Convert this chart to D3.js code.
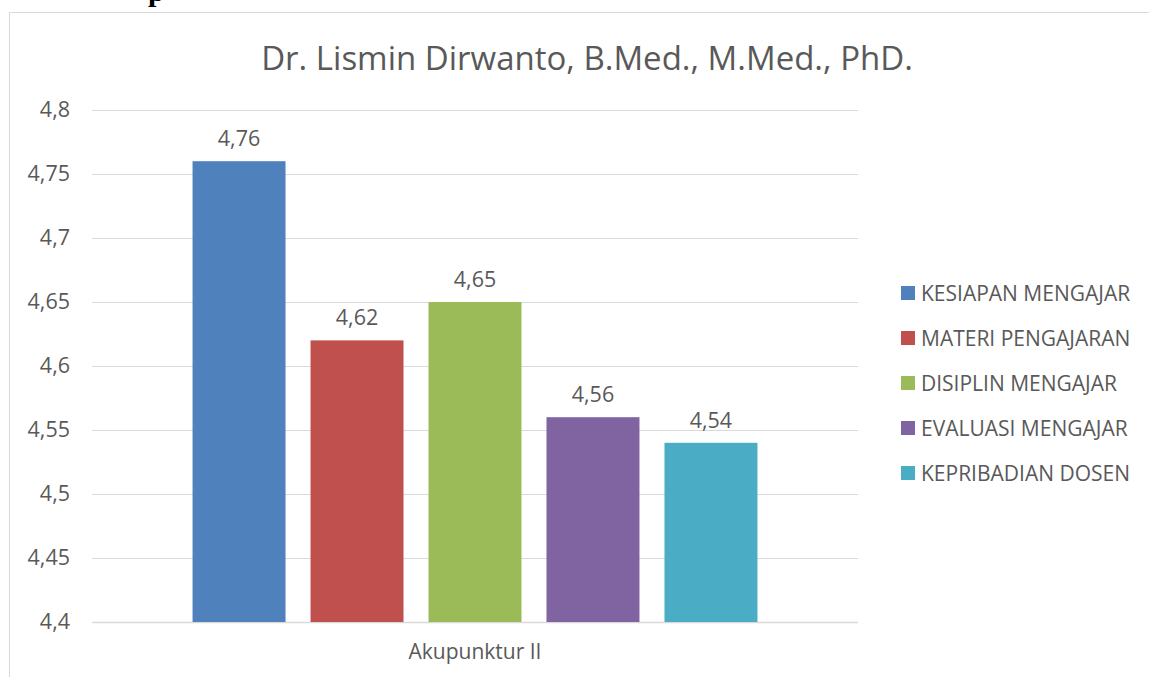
<!DOCTYPE html>
<html>
<head>
<meta charset="utf-8">
<script src="https://cdn.jsdelivr.net/npm/d3@7"></script>
<style>
  html, body { margin: 0; padding: 0; background: #fff; }
  svg { display: block; font-family: "Open Sans", sans-serif; }
</style>
</head>
<body>
<div id="chart"></div>
<script>
const title = 'Dr. Lismin Dirwanto, B.Med., M.Med., PhD.';
const categories = ['Akupunktur II'];
const seriesNames = ['KESIAPAN MENGAJAR', 'MATERI PENGAJARAN', 'DISIPLIN MENGAJAR', 'EVALUASI MENGAJAR', 'KEPRIBADIAN DOSEN'];
const seriesValues = [4.76, 4.62, 4.65, 4.56, 4.54];
const seriesColors = ['#4F81BD', '#C0504D', '#9BBB59', '#8064A2', '#4BACC6'];
const yTicks = [4.4, 4.45, 4.5, 4.55, 4.6, 4.65, 4.7, 4.75, 4.8];

const W = 1149, H = 677;
const plot = { left: 92, right: 858, top: 110, bottom: 622 };
const textColor = '#595959';
const gridColor = '#D9D9D9';

const locale = d3.formatLocale({ decimal: ',', thousands: '.', grouping: [3], currency: ['', ''] });
const fmt = locale.format('~g');

const svg = d3.select('#chart').append('svg').attr('width', W).attr('height', H);

// piece of the document heading above the chart
svg.append('text').attr('x', 148).attr('y', 1)
    .style('font-family', '"Liberation Serif", serif').style('font-weight', 'bold')
    .style('font-size', '30px').style('fill', '#000').text('p');

// chart frame
svg.append('rect').attr('x', 9.5).attr('y', 12.5).attr('width', 1200).attr('height', 700)
    .attr('fill', 'none').attr('stroke', gridColor).attr('stroke-width', 1);

svg.append('text').attr('x', 587).attr('y', 70).attr('text-anchor', 'middle')
    .style('font-size', '33px').style('fill', textColor).text(title);

const y = d3.scaleLinear().domain([4.4, 4.8]).range([plot.bottom, plot.top]);
const x0 = d3.scaleBand().domain(categories).range([plot.left, plot.right]).paddingInner(0).paddingOuter(0.178);
const x1 = d3.scaleBand().domain(seriesNames).range([0, x0.bandwidth()]).paddingInner(0.212).paddingOuter(0);

const g = svg.append('g');

g.selectAll('.grid').data(yTicks).join('line')
    .attr('x1', plot.left).attr('x2', plot.right)
    .attr('y1', d => Math.round(y(d)) + 0.5).attr('y2', d => Math.round(y(d)) + 0.5)
    .attr('stroke', gridColor).attr('stroke-width', d => d === 4.4 ? 1.5 : 1);

const yAxis = g.append('g').attr('transform', `translate(${plot.left},0)`)
    .call(d3.axisLeft(y).tickValues(yTicks).tickFormat(fmt).tickSize(0).tickPadding(22));
yAxis.select('.domain').remove();
yAxis.selectAll('text').style('font-size', '21.5px').style('fill', textColor).style('font-family', '"Open Sans", sans-serif');

const xAxis = g.append('g').attr('transform', `translate(0,${plot.bottom})`)
    .call(d3.axisBottom(x0).tickSize(0).tickPadding(22));
xAxis.select('.domain').remove();
xAxis.selectAll('text').style('font-size', '21px').style('fill', textColor).style('font-family', '"Open Sans", sans-serif');

const groups = g.selectAll('.cat').data(categories).join('g')
    .attr('transform', d => `translate(${x0(d)},0)`);

seriesNames.forEach((name, i) => {
    groups.append('rect')
        .attr('x', x1(name)).attr('width', x1.bandwidth())
        .attr('y', y(seriesValues[i])).attr('height', plot.bottom - y(seriesValues[i]))
        .attr('fill', seriesColors[i]);
    groups.append('text')
        .attr('x', x1(name) + x1.bandwidth() / 2).attr('y', y(seriesValues[i]) - 15)
        .attr('text-anchor', 'middle').style('font-size', '21.5px').style('fill', textColor)
        .text(fmt(seriesValues[i]));
});

const legend = svg.append('g').attr('transform', 'translate(901,286)');
seriesNames.forEach((name, i) => {
    const row = legend.append('g').attr('transform', `translate(0,${i * 45})`);
    row.append('rect').attr('width', 14).attr('height', 14).attr('fill', seriesColors[i]);
    row.append('text').attr('x', 20).attr('y', 15).style('font-size', '21px').style('fill', textColor).text(name);
});
</script>
</body>
</html>
